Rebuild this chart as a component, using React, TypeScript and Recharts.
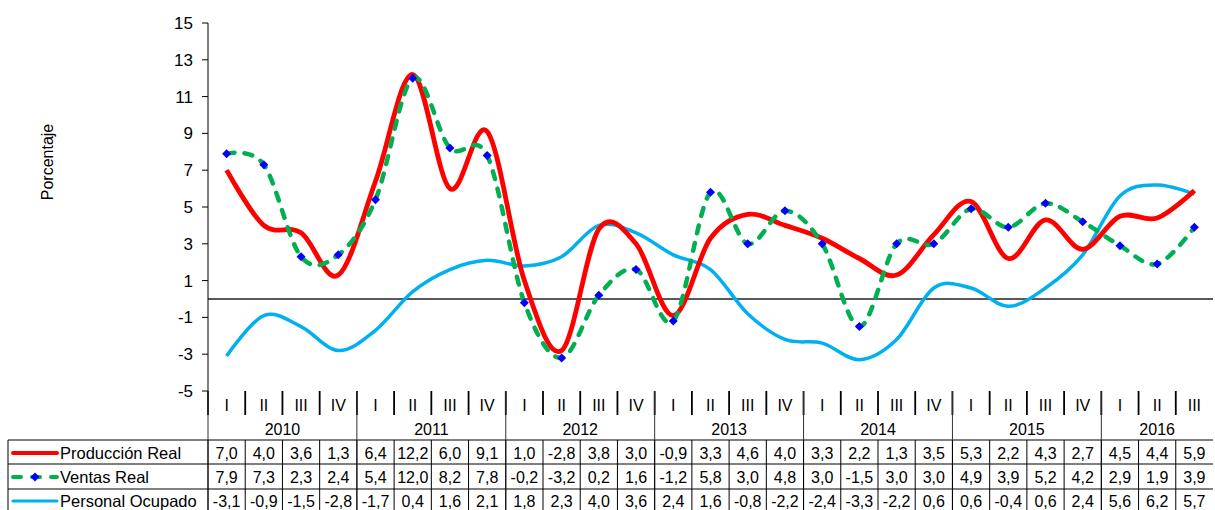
import React from 'react';
import { ComposedChart, Line, XAxis, YAxis, ReferenceLine } from 'recharts';

// quarter / year of each column
const quarterLabels = ['I', 'II', 'III', 'IV', 'I', 'II', 'III', 'IV', 'I', 'II', 'III', 'IV', 'I', 'II', 'III', 'IV', 'I', 'II', 'III', 'IV', 'I', 'II', 'III', 'IV', 'I', 'II', 'III'];
const yearLabels = ['2010', '2010', '2010', '2010', '2011', '2011', '2011', '2011', '2012', '2012', '2012', '2012', '2013', '2013', '2013', '2013', '2014', '2014', '2014', '2014', '2015', '2015', '2015', '2015', '2016', '2016', '2016'];

const produccionReal = [7.0, 4.0, 3.6, 1.3, 6.4, 12.2, 6.0, 9.1, 1.0, -2.8, 3.8, 3.0, -0.9, 3.3, 4.6, 4.0, 3.3, 2.2, 1.3, 3.5, 5.3, 2.2, 4.3, 2.7, 4.5, 4.4, 5.9];
const ventasReal = [7.9, 7.3, 2.3, 2.4, 5.4, 12.0, 8.2, 7.8, -0.2, -3.2, 0.2, 1.6, -1.2, 5.8, 3.0, 4.8, 3.0, -1.5, 3.0, 3.0, 4.9, 3.9, 5.2, 4.2, 2.9, 1.9, 3.9];
const personalOcupado = [-3.1, -0.9, -1.5, -2.8, -1.7, 0.4, 1.6, 2.1, 1.8, 2.3, 4.0, 3.6, 2.4, 1.6, -0.8, -2.2, -2.4, -3.3, -2.2, 0.6, 0.6, -0.4, 0.6, 2.4, 5.6, 6.2, 5.7];

const yTicks = [-5, -3, -1, 1, 3, 5, 7, 9, 11, 13, 15];

const data = quarterLabels.map((q, i) => ({
  key: `${yearLabels[i]}-${q}`,
  produccion: produccionReal[i],
  ventas: ventasReal[i],
  personal: personalOcupado[i],
}));

const W = 1215;
const H = 510;
const PLOT_LEFT = 208;
const PLOT_RIGHT = 1213;
const COL = (PLOT_RIGHT - PLOT_LEFT) / data.length;
const FONT = '"Liberation Sans", Arial, sans-serif';

const RED = '#FF0000';
const GREEN = '#00B050';
const BLUE = '#0000FF';
const CYAN = '#00B0F0';

// excel-like smoothing (catmull-rom style cardinal spline)
function smoothCurve(context: any) {
  const k = 1 / 6;
  let x0 = NaN, y0 = NaN, x1 = NaN, y1 = NaN, x2 = NaN, y2 = NaN;
  let n = 0;
  let line = NaN;
  const seg = (x: number, y: number) => {
    context.bezierCurveTo(
      x1 + k * (x2 - x0), y1 + k * (y2 - y0),
      x2 + k * (x1 - x), y2 + k * (y1 - y),
      x2, y2
    );
  };
  return {
    areaStart() { line = 0; },
    areaEnd() { line = NaN; },
    lineStart() {
      x0 = x1 = x2 = y0 = y1 = y2 = NaN;
      n = 0;
    },
    lineEnd() {
      if (n === 2) context.lineTo(x2, y2);
      else if (n === 3) seg(x1, y1);
      if (line || (line !== 0 && n === 1)) context.closePath();
      line = 1 - line;
    },
    point(x: number, y: number) {
      x = +x; y = +y;
      if (n === 0) {
        n = 1;
        if (line) context.lineTo(x, y); else context.moveTo(x, y);
      } else if (n === 1) {
        n = 2;
        x1 = x; y1 = y;
      } else {
        n = 3;
        seg(x, y);
      }
      x0 = x1; x1 = x2; x2 = x;
      y0 = y1; y1 = y2; y2 = y;
    },
  };
}

const fmt = (v: number) => v.toFixed(1).replace('.', ',');

const Diamond = (props: any) => {
  const { cx, cy, index } = props;
  if (cx == null || cy == null) return <g key={`d-${index}`} />;
  const r = 4.5;
  return (
    <path
      key={`d-${index}`}
      d={`M${cx},${cy - r}L${cx + r},${cy}L${cx},${cy + r}L${cx - r},${cy}Z`}
      fill={BLUE}
    />
  );
};

const rowValues = [produccionReal, ventasReal, personalOcupado];

const TableTick = (props: any) => {
  const { x, y } = props;
  const i = props.index ?? props.payload?.index ?? 0;
  const top = y;
  const left = x - COL / 2;
  const bottom = top + 125;
  const rowTop = [top + 49, top + 73, top + 98];
  const rowMid = [top + 62, top + 86, top + 110];
  const isYearStart = quarterLabels[i] === 'I';
  let yearCount = 0;
  if (isYearStart) {
    for (let j = i; j < yearLabels.length && yearLabels[j] === yearLabels[i]; j++) yearCount++;
  }
  const right = x + (data.length - i - 0.5) * COL;
  const stroke = '#000';
  return (
    <g>
      {/* quarter row separator */}
      <line x1={left} y1={top} x2={left} y2={top + 24} stroke={stroke} strokeWidth={1.8} />
      {isYearStart && <line x1={left} y1={top} x2={left} y2={bottom} stroke="#333" strokeWidth={1} />}
      <line x1={left} y1={rowTop[0]} x2={left} y2={bottom} stroke={stroke} strokeWidth={1} />
      <text x={x} y={top + 14} dy="0.35em" textAnchor="middle" fontSize={16} fill="#000" fontFamily={FONT}>
        {quarterLabels[i]}
      </text>
      {isYearStart && (
        <text
          x={x + ((yearCount - 1) / 2) * COL}
          y={top + 38}
          dy="0.35em"
          textAnchor="middle"
          fontSize={16}
          fill="#000"
          fontFamily={FONT}
        >
          {yearLabels[i]}
        </text>
      )}
      {rowValues.map((vals, r) => (
        <text
          key={r}
          x={x}
          y={rowMid[r]}
          dy="0.35em"
          textAnchor="middle"
          fontSize={16}
          fill="#000"
          fontFamily={FONT}
        >
          {fmt(vals[i])}
        </text>
      ))}
      {i === 0 && (
        <g>
          {rowTop.map((ry, r) => (
            <line key={`h${r}`} x1={8} y1={ry} x2={right} y2={ry} stroke={stroke} strokeWidth={1} />
          ))}
          <line x1={8} y1={rowTop[0]} x2={8} y2={bottom} stroke={stroke} strokeWidth={1} />
          {/* legend keys */}
          <line x1={13} y1={rowMid[0]} x2={57} y2={rowMid[0]} stroke={RED} strokeWidth={4} strokeLinecap="round" />
          <line x1={13} y1={rowMid[1]} x2={57} y2={rowMid[1]} stroke={GREEN} strokeWidth={4} strokeLinecap="round" strokeDasharray="8 11" />
          <path d={`M35,${rowMid[1] - 4.5}L39.5,${rowMid[1]}L35,${rowMid[1] + 4.5}L30.5,${rowMid[1]}Z`} fill={BLUE} />
          <line x1={13} y1={rowMid[2]} x2={57} y2={rowMid[2]} stroke={CYAN} strokeWidth={3} strokeLinecap="round" />
          {['Producción Real', 'Ventas Real', 'Personal Ocupado'].map((name, r) => (
            <text key={name} x={60} y={rowMid[r]} dy="0.35em" fontSize={16.5} fill="#000" fontFamily={FONT}>
              {name}
            </text>
          ))}
        </g>
      )}
    </g>
  );
};

const YLabel = () => (
  <text
    x={47}
    y={162}
    transform="rotate(-90 47 162)"
    textAnchor="middle"
    dy="0.35em"
    fontSize={16}
    fill="#000"
    fontFamily={FONT}
  >
    Porcentaje
  </text>
);

export default function App() {
  return (
    <div style={{ position: 'absolute', left: 0, top: 0, width: W, height: H, background: '#fff' }}>
      <ComposedChart
        width={W}
        height={H}
        data={data}
        margin={{ top: 23, right: W - PLOT_RIGHT, left: 0, bottom: 0 }}
        style={{ fontFamily: FONT }}
      >
        <XAxis
          dataKey="key"
          height={119}
          interval={0}
          tickLine={false}
          tickSize={0}
          tickMargin={0}
          axisLine={false}
          padding={{ left: COL / 2, right: COL / 2 }}
          tick={<TableTick />}
        />
        <YAxis
          width={PLOT_LEFT}
          domain={[-5, 15]}
          ticks={yTicks}
          interval={0}
          allowDataOverflow
          tick={{ fill: '#000', fontSize: 17, fontFamily: FONT }}
          tickSize={6}
          tickMargin={9}
          tickLine={{ stroke: '#000' }}
          axisLine={{ stroke: '#000' }}
          label={{ value: 'Porcentaje', content: () => <YLabel /> }}
        />
        <ReferenceLine y={0} stroke="#595959" strokeWidth={1.8} />
        <Line
          dataKey="personal"
          type={smoothCurve as any}
          stroke={CYAN}
          strokeWidth={3.5}
          dot={false}
          activeDot={false}
          isAnimationActive={false}
        />
        <Line
          dataKey="produccion"
          type={smoothCurve as any}
          stroke={RED}
          strokeWidth={4.8}
          dot={false}
          activeDot={false}
          isAnimationActive={false}
        />
        <Line
          dataKey="ventas"
          type={smoothCurve as any}
          stroke={GREEN}
          strokeWidth={4.5}
          strokeDasharray="8 10"
          strokeLinecap="round"
          dot={<Diamond />}
          activeDot={false}
          isAnimationActive={false}
        />
      </ComposedChart>
    </div>
  );
}
